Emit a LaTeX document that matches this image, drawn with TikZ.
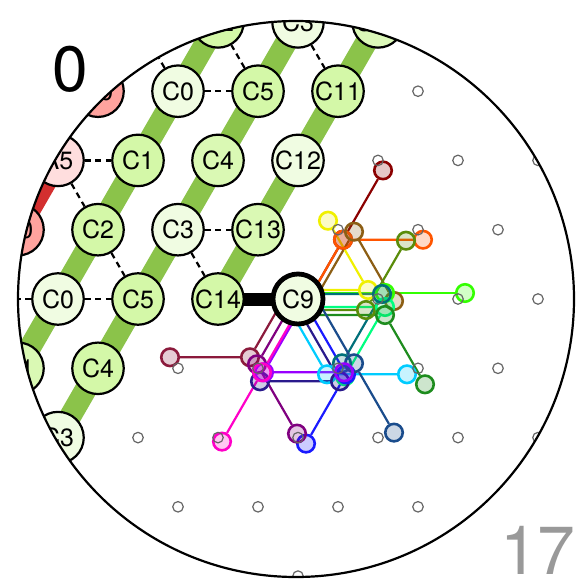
\documentclass[tikz,border=0pt]{standalone}
\usepackage{fontspec}
\setmainfont{TeX Gyre Heros}
\pgfdeclarelayer{under}
\pgfsetlayers{under,main}
\newcommand\labfont{\fontsize{25}{26}\selectfont}
\definecolor{bandgreen}{HTML}{8BC34A}
\definecolor{bandred}{HTML}{D32F2F}
\definecolor{lgreen}{HTML}{F0FCE2}
\definecolor{mgreen}{HTML}{D4F8A8}
\definecolor{salmon}{HTML}{FFA39E}
\definecolor{lpink}{HTML}{FFDEDE}
\definecolor{cDarkred}{HTML}{8B0000}
\definecolor{cOrange}{HTML}{FF5500}
\definecolor{cBrown}{HTML}{8C5E14}
\definecolor{cYellow}{HTML}{F0F000}
\definecolor{cOlive}{HTML}{5A8C0A}
\definecolor{cLime}{HTML}{33FF00}
\definecolor{cTeal}{HTML}{00707A}
\definecolor{cSpring}{HTML}{00FF80}
\definecolor{cGreen}{HTML}{1E8C1E}
\definecolor{cCyan}{HTML}{00CCFF}
\definecolor{cIndigo}{HTML}{2A1A8C}
\definecolor{cBlue}{HTML}{1A1AFF}
\definecolor{cSteel}{HTML}{1A4C8C}
\definecolor{cViolet}{HTML}{9900FF}
\definecolor{cMaroon}{HTML}{8B1A3C}
\definecolor{cMagenta}{HTML}{FF00C8}
\definecolor{cPurple}{HTML}{800080}
\begin{document}
\begin{tikzpicture}[x=1pt,y=-1pt,
  gnode/.style={circle, draw=black, line width=2.2pt, minimum size=51.5pt, inner sep=0pt, font=\labfont},
  cnode/.style={circle, draw=#1, fill=#1, fill opacity=0.22, line width=2.6pt, minimum size=17.5pt, inner sep=0pt},
  cline/.style={draw=#1, line width=2.2pt},
  dotnode/.style={circle, draw=black!60, line width=1.2pt, minimum size=10.5pt, inner sep=0pt},
  band/.style={line width=22pt, draw=bandgreen},
  dashln/.style={draw=black, line width=2.2pt, dash pattern=on 6pt off 4.5pt},
]
\useasboundingbox (0,0) rectangle (580,584);
\begin{scope}
\clip (296,299) circle (278);
% ---------- start points of coloured paths (under C9)
\coordinate (s1) at (303,309);
\coordinate (s2) at (303,309);
\coordinate (s3) at (314,301);
\coordinate (s4) at (288,290);
\coordinate (s5) at (286,310);
\coordinate (s6) at (305,293);
\coordinate (s7) at (302,294);
\coordinate (s8) at (305,307);
\coordinate (s9) at (305,315);
\coordinate (s10) at (287,305);
\coordinate (s11) at (300,312);
\coordinate (s12) at (306,305);
\coordinate (s13) at (314,294);
\coordinate (s14) at (304,303);
\coordinate (s15) at (290,288);
\coordinate (s16) at (302,303);
\coordinate (s17) at (297,295);
% ---------- coloured nodes
\node[cnode=cDarkred] (m1) at (343,239.7) {};
\node[cnode=cDarkred] (e1) at (383,170.4) {};
\node[cnode=cOrange] (m2) at (343,239.7) {};
\node[cnode=cOrange] (e2) at (423,239.7) {};
\node[cnode=cBrown] (m3) at (354,231.7) {};
\node[cnode=cBrown] (e3) at (394,301) {};
\node[cnode=cYellow] (m4) at (368,290) {};
\node[cnode=cYellow] (e4) at (328,220.7) {};
\node[cnode=cOlive] (m5) at (366,310) {};
\node[cnode=cOlive] (e5) at (406,240.7) {};
\node[cnode=cLime] (m6) at (385,293) {};
\node[cnode=cLime] (e6) at (465,293) {};
\node[cnode=cSpring] (m8) at (385,307) {};
\node[cnode=cSpring] (e8) at (345,376.3) {};
\node[cnode=cGreen] (m9) at (385,315) {};
\node[cnode=cGreen] (e9) at (425,384.3) {};
\node[cnode=cTeal] (m7) at (382,294) {};
\node[cnode=cTeal] (e7) at (342,363.3) {};
\node[cnode=cCyan] (m10) at (327,374.3) {};
\node[cnode=cCyan] (e10) at (407,374.3) {};
\node[cnode=cIndigo] (m11) at (340,381.3) {};
\node[cnode=cIndigo] (e11) at (260,381.3) {};
\node[cnode=cBlue] (m12) at (346,374.3) {};
\node[cnode=cBlue] (e12) at (306,443.6) {};
\node[cnode=cSteel] (m13) at (354,363.3) {};
\node[cnode=cSteel] (e13) at (394,432.6) {};
\node[cnode=cMaroon] (m15) at (250,357.3) {};
\node[cnode=cMaroon] (e15) at (170,357.3) {};
\node[cnode=cPurple] (m17) at (257,364.3) {};
\node[cnode=cPurple] (e17) at (297,433.6) {};
\node[cnode=cViolet] (m14) at (264,372.3) {};
\node[cnode=cViolet] (e14) at (344,372.3) {};
\node[cnode=cMagenta] (m16) at (262,372.3) {};
\node[cnode=cMagenta] (e16) at (222,441.6) {};
% ---------- grey lattice points
\foreach \p [count=\i] in {(418,91.2),(378,160.4),(458,160.4),(538,160.4),
  (338,229.7),(418,229.7),(498,229.7),(378,299),(458,299),(538,299),
  (178,368.3),(258,368.3),(338,368.3),(418,368.3),(498,368.3),
  (138,437.6),(218,437.6),(298,437.6),(378,437.6),(458,437.6),(538,437.6),
  (178,506.8),(258,506.8),(338,506.8),(418,506.8),(298,576.1)}
  \node[dotnode] (g\i) at \p {};
% ---------- lattice nodes
\node[gnode, fill=mgreen] (t1) at (218,21.9) {C2};
\node[gnode, fill=lgreen] (t2) at (298,21.9) {C3};
\node[gnode, fill=mgreen!70!lgreen] (t3) at (378,21.9) {C10};
\node[gnode, fill=salmon] (p1) at (98,91.2) {A0};
\node[gnode, fill=lgreen] (a1) at (178,91.2) {C0};
\node[gnode, fill=mgreen] (a2) at (258,91.2) {C5};
\node[gnode, fill=mgreen] (a3) at (338,91.2) {C11};
\node[gnode, fill=lpink] (p2) at (58,160.4) {A5};
\node[gnode, fill=mgreen] (b1) at (138,160.4) {C1};
\node[gnode, fill=mgreen!80!lgreen] (b2) at (218,160.4) {C4};
\node[gnode, fill=lgreen] (b3) at (298,160.4) {C12};
\node[gnode, fill=salmon] (p3) at (18,229.7) {A0};
\node[gnode, fill=mgreen] (c1) at (98,229.7) {C2};
\node[gnode, fill=lgreen] (c2) at (178,229.7) {C3};
\node[gnode, fill=mgreen!80!lgreen] (c3) at (258,229.7) {C13};
\node[gnode, fill=lgreen] (d1) at (58,299) {C0};
\node[gnode, fill=mgreen] (d2) at (138,299) {C5};
\node[gnode, fill=mgreen] (d3) at (218,299) {C14};
\node[gnode, fill=lgreen, line width=4.8pt, minimum size=50pt] (c9) at (298,299) {C9};
\node[gnode, fill=mgreen!80!lgreen] (f0) at (18,368.3) {C1};
\node[gnode, fill=mgreen] (f1) at (98,368.3) {C4};
\node[gnode, fill=lgreen] (h1) at (58,437.6) {C3};
\coordinate (x1) at (138,21.9);
\coordinate (x2) at (-22,299);
\coordinate (x3) at (-22,437.6);
\coordinate (x4) at (418,-47.4);
\end{scope}
\begin{pgfonlayer}{under}
\fill[white] (0,0) rectangle (580,584);
\begin{scope}
\clip (296,299) circle (278);
% bands
\draw[band] (x3) -- (f0.center) -- (d1.center) -- (c1.center) -- (b1.center) -- (a1.center) -- (t1.center);
\draw[band] (h1.center) -- (f1.center) -- (d2.center) -- (c2.center) -- (b2.center) -- (a2.center) -- (t2.center);
\draw[band] (d3.center) -- (c3.center) -- (b3.center) -- (a3.center) -- (t3.center) -- (x4);
\draw[band, draw=bandred] (p2.center) -- (p3.center);
% dashed links
\draw[dashln] (a1) -- (a2);
\draw[dashln] (a2) -- (t1);
\draw[dashln] (t2) -- (a3);
\draw[dashln] (a1) -- (x1);
\draw[dashln] (p2) -- (b1);
\draw[dashln] (p2) -- (c1);
\draw[dashln] (c2) -- (c3);
\draw[dashln] (c1) -- (d2);
\draw[dashln] (c2) -- (d3);
\draw[dashln] (d1) -- (d2);
\draw[dashln] (d1) -- (x2);
% thick link
\draw[line width=13pt] (d3.center) -- (c9.center);
% coloured paths
\draw[cline=cDarkred] (s1) -- (m1) -- (e1);
\draw[cline=cOrange] (s2) -- (m2) -- (e2);
\draw[cline=cBrown] (s3) -- (m3) -- (e3);
\draw[cline=cYellow] (s4) -- (m4) -- (e4);
\draw[cline=cOlive] (s5) -- (m5) -- (e5);
\draw[cline=cLime] (s6) -- (m6) -- (e6);
\draw[cline=cTeal] (s7) -- (m7) -- (e7);
\draw[cline=cSpring] (s8) -- (m8) -- (e8);
\draw[cline=cGreen] (s9) -- (m9) -- (e9);
\draw[cline=cCyan] (s10) -- (m10) -- (e10);
\draw[cline=cIndigo] (s11) -- (m11) -- (e11);
\draw[cline=cBlue] (s12) -- (m12) -- (e12);
\draw[cline=cSteel] (s13) -- (m13) -- (e13);
\draw[cline=cViolet] (s14) -- (m14) -- (e14);
\draw[cline=cMaroon] (s15) -- (m15) -- (e15);
\draw[cline=cMagenta] (s16) -- (m16) -- (e16);
\draw[cline=cPurple] (s17) -- (m17) -- (e17);
\end{scope}
\end{pgfonlayer}
\draw[line width=2.2pt] (296,299) circle (278);
\node[anchor=base, inner sep=0pt, font=\fontsize{64}{64}\selectfont] (lab0) at (70,91.5) {0};
\node[anchor=base east, inner sep=0pt, text=black!40, font=\fontsize{68}{68}\selectfont] (lab17) at (576,574) {17};
\end{tikzpicture}
\end{document}
